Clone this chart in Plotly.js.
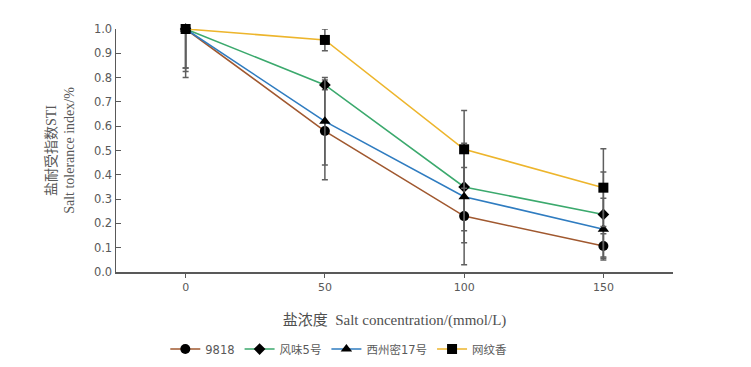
<!DOCTYPE html>
<html><head><meta charset="utf-8">
<script src="https://cdn.plot.ly/plotly-3.0.1.min.js"></script>
<style>html,body{margin:0;padding:0;background:#fff}</style>
</head><body>
<div id="chart" style="width:751px;height:367px"></div>
<script>
const concentrations = [0, 50, 100, 150];
const seriesNames = ["9818", "风味5号", "西州密17号", "网纹香"];
const sti9818 = [1.0, 0.58, 0.23, 0.107];
const err9818 = [0.20, 0.20, 0.20, 0.05];
const stiFengwei5 = [1.0, 0.77, 0.35, 0.237];
const errFengwei5 = [0.16, 0.02, 0.18, 0.175];
const stiXizhoumi17 = [1.0, 0.62, 0.31, 0.176];
const errXizhoumi17 = [0.175, 0.18, 0.19, 0.127];
const stiWangwenxiang = [1.0, 0.955, 0.505, 0.347];
const errWangwenxiang = [0.16, 0.045, 0.16, 0.16];
const yTicks = [0, 0.1, 0.2, 0.3, 0.4, 0.5, 0.6, 0.7, 0.8, 0.9, 1.0];

const values = [sti9818, stiFengwei5, stiXizhoumi17, stiWangwenxiang];
const errors = [err9818, errFengwei5, errXizhoumi17, errWangwenxiang];
const colors = ["#A0582F", "#3BA96D", "#2F7CC0", "#EDB52C"];
const symbols = ["circle", "diamond", "triangle-up", "square"];
const sizes = [10, 9, 10, 10];

const traces = values.map((v, i) => ({
  x: concentrations, y: v, name: seriesNames[i], type: "scatter", mode: "lines+markers",
  line: {color: colors[i], width: 1.6},
  marker: {symbol: symbols[i], color: "#000", size: sizes[i]},
  error_y: {type: "data", array: errors[i], visible: true, color: "#5f5f5f", thickness: 1.5, width: 3},
  cliponaxis: false
}));

const layout = {
  width: 751, height: 367,
  margin: {l: 116, r: 78, t: 29, b: 95, autoexpand: false},
  paper_bgcolor: "#fff", plot_bgcolor: "#fff",
  showlegend: true,
  legend: {orientation: "h", x: 0.40, xanchor: "center", y: -0.317, yanchor: "middle",
    font: {family: "DejaVu Sans, Noto Sans CJK SC", size: 11.5, color: "#595959"},
    itemwidth: 30, tracegroupgap: 0},
  xaxis: {
    range: [-25, 175], tickvals: concentrations, ticktext: concentrations.map(String),
    automargin: false,
    showgrid: false, zeroline: false, showline: true, linecolor: "#595959", linewidth: 1.5,
    ticks: "outside", ticklen: 4, tickcolor: "#595959",
    tickfont: {family: "DejaVu Sans", size: 11, color: "#595959"},
    title: {text: "盐浓度  Salt concentration/(mmol/L)", standoff: 22,
      font: {family: "Liberation Serif, Noto Sans CJK SC", size: 15, color: "#505050"}}
  },
  yaxis: {
    range: [0, 1.0], tickvals: yTicks, tickformat: ".1f",
    automargin: false,
    showgrid: false, zeroline: false, showline: true, linecolor: "#595959", linewidth: 1.5,
    ticks: "inside", ticklen: 5, tickcolor: "#595959",
    tickfont: {family: "DejaVu Sans", size: 11.5, color: "#595959"},
    title: {text: "盐耐受指数STI<br>Salt tolerance index/%", standoff: 16,
      font: {family: "Liberation Serif, Noto Sans CJK SC", size: 14, color: "#595959"}}
  }
};
Plotly.newPlot("chart", traces, layout, {displayModeBar: false, staticPlot: true});
</script>
</body></html>
